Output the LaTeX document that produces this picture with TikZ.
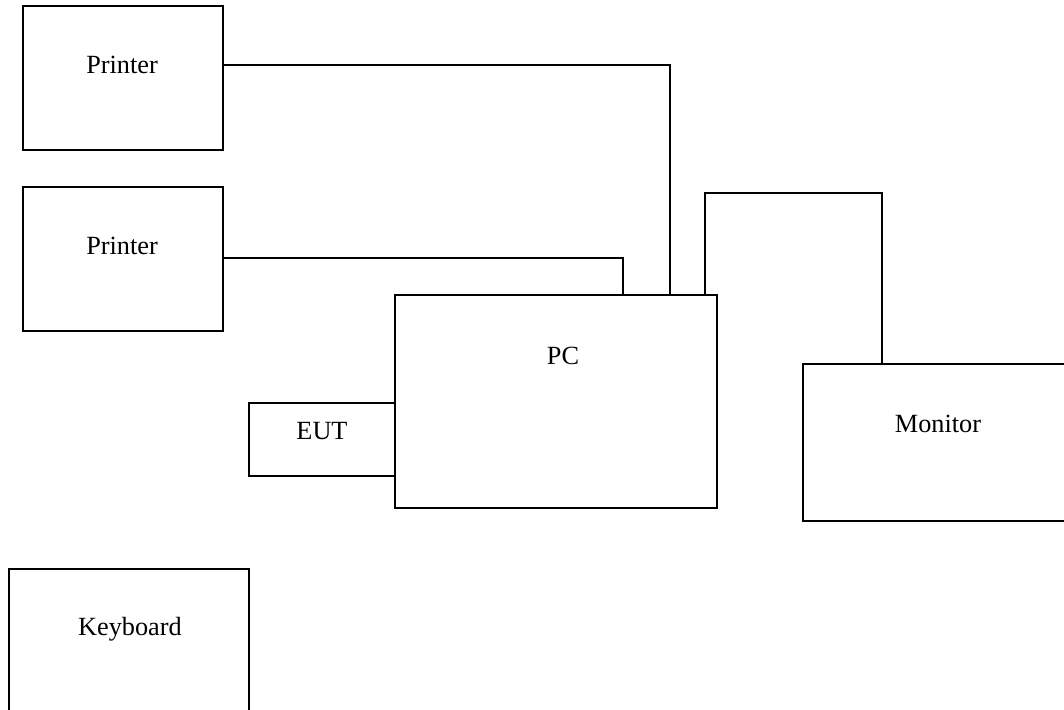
\documentclass[tikz,border=0pt]{standalone}
\usepackage{fontspec}
\setmainfont{Liberation Serif}
\usetikzlibrary{fit}
\begin{document}
\begin{tikzpicture}[x=0.75pt,y=-0.75pt,
  box/.style={draw=black,line width=1.6pt,inner sep=0pt,fill=none},
  txt/.style={inner sep=0pt,font=\fontsize{19.7}{23}\selectfont},
  wire/.style={draw=black,line width=1.6pt}]
\useasboundingbox (0,0) rectangle (1064,710);
% boxes
\node[box,fit={(23,6) (223,150)}] (p1) {};
\node[box,fit={(23,187) (223,331)}] (p2) {};
\node[box,fit={(395,295) (717,508)}] (pc) {};
\node[box,fit={(249,403) (395,476)}] (eut) {};
\node[box,fit={(803,364) (1072,521)}] (mon) {};
\node[box,fit={(9,569) (249,720)}] (kb) {};
% labels
\node[txt] (p1t) at (122,65) {Printer};
\node[txt] (p2t) at (122,246) {Printer};
\node[txt] (pct) at (563,356) {PC};
\node[txt] (eutt) at (322,431) {EUT};
\node[txt] (mont) at (938,424) {Monitor};
\node[txt] (kbt) at (130,629) {Keyboard};
% connectors
\coordinate (mc) at (705,193);
\draw[wire] (p1.east |- 0,65) -| (pc.north -| 670,0);
\draw[wire] (p2.east |- 0,258) -| (pc.north -| 623,0);
\draw[wire] (pc.north -| mc) -- (mc) -| (mon.north -| 882,0);
\end{tikzpicture}
\end{document}
